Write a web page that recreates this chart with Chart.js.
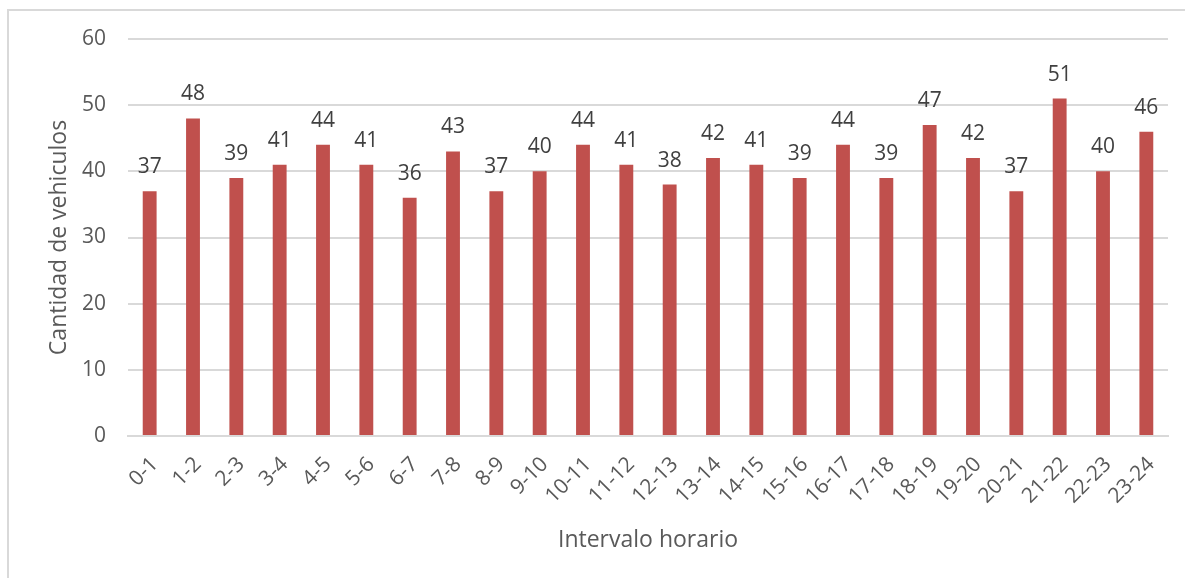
<!DOCTYPE html>
<html>
<head>
<meta charset="utf-8">
<script src="https://cdn.jsdelivr.net/npm/chart.js@4"></script>
<style>
  html, body { margin: 0; padding: 0; background: #fff; }
  #wrap { position: relative; width: 1185px; height: 578px; overflow: hidden; }
  #frame { position: absolute; left: 7px; top: 9px; width: 1200px; height: 600px; border: 2px solid #d9d9d9; box-sizing: border-box; }
  #chart { position: absolute; left: 0; top: 0; }
</style>
</head>
<body>
<div id="wrap">
  <div id="frame"></div>
  <canvas id="chart" width="1185" height="578"></canvas>
</div>
<script>
// Intervalos horarios
var categories = ['0-1', '1-2', '2-3', '3-4', '4-5', '5-6', '6-7', '7-8', '8-9', '9-10', '10-11', '11-12',
    '12-13', '13-14', '14-15', '15-16', '16-17', '17-18', '18-19', '19-20', '20-21', '21-22', '22-23', '23-24'];
// Cantidad de vehiculos por intervalo
var vehiculos = [37, 48, 39, 41, 44, 41, 36, 43, 37, 40, 44, 41, 38, 42, 41, 39, 44, 39, 47, 42, 37, 51, 40, 46];
var yMin = 0;
var yMax = 60;
var yStep = 10;

var fontFamily = "'Open Sans', 'Noto Sans', sans-serif";
var textColor = '#595959';

// etiquetas encima de cada barra
var valueLabels = {
    id: 'valueLabels',
    afterDatasetsDraw: function (chart) {
        var ctx = chart.ctx;
        var meta = chart.getDatasetMeta(0);
        ctx.save();
        ctx.font = '21px ' + fontFamily;
        ctx.fillStyle = '#404040';
        ctx.textAlign = 'center';
        ctx.textBaseline = 'alphabetic';
        meta.data.forEach(function (bar, i) {
            ctx.fillText(String(vehiculos[i]), bar.x, bar.y - 18);
        });
        ctx.restore();
    }
};

var ctx = document.getElementById('chart');
var chart = new Chart(ctx, {
    type: 'bar',
    data: {
        labels: categories,
        datasets: [{
            data: vehiculos,
            backgroundColor: '#C0504D',
            borderWidth: 0,
            barPercentage: 0.64,
            categoryPercentage: 0.5
        }]
    },
    options: {
        responsive: false,
        animation: false,
        layout: { padding: { top: 39, right: 17, left: 0, bottom: 0 } },
        plugins: {
            legend: { display: false },
            tooltip: { enabled: false }
        },
        scales: {
            x: {
                grid: { display: false, drawTicks: false },
                border: { color: '#d9d9d9', width: 2 },
                ticks: {
                    color: textColor,
                    font: { family: fontFamily, size: 21 },
                    minRotation: 45,
                    maxRotation: 45,
                    padding: 16,
                    labelOffset: 5,
                    autoSkip: false
                },
                title: {
                    display: true,
                    text: 'Intervalo horario',
                    color: textColor,
                    font: { family: fontFamily, size: 23 },
                    padding: { top: 0, bottom: 24 }
                },
                afterFit: function (scale) { scale.height = 142; }
            },
            y: {
                min: yMin,
                max: yMax,
                ticks: {
                    stepSize: yStep,
                    color: textColor,
                    font: { family: fontFamily, size: 21 },
                    padding: 22
                },
                grid: { color: '#d9d9d9', lineWidth: 2, drawTicks: false },
                border: { display: false },
                title: {
                    display: true,
                    text: 'Cantidad de vehiculos',
                    color: textColor,
                    font: { family: fontFamily, size: 23 },
                    padding: { top: 46, bottom: 0 }
                },
                afterFit: function (scale) { scale.width = 128; }
            }
        }
    },
    plugins: [valueLabels]
});
</script>
</body>
</html>
